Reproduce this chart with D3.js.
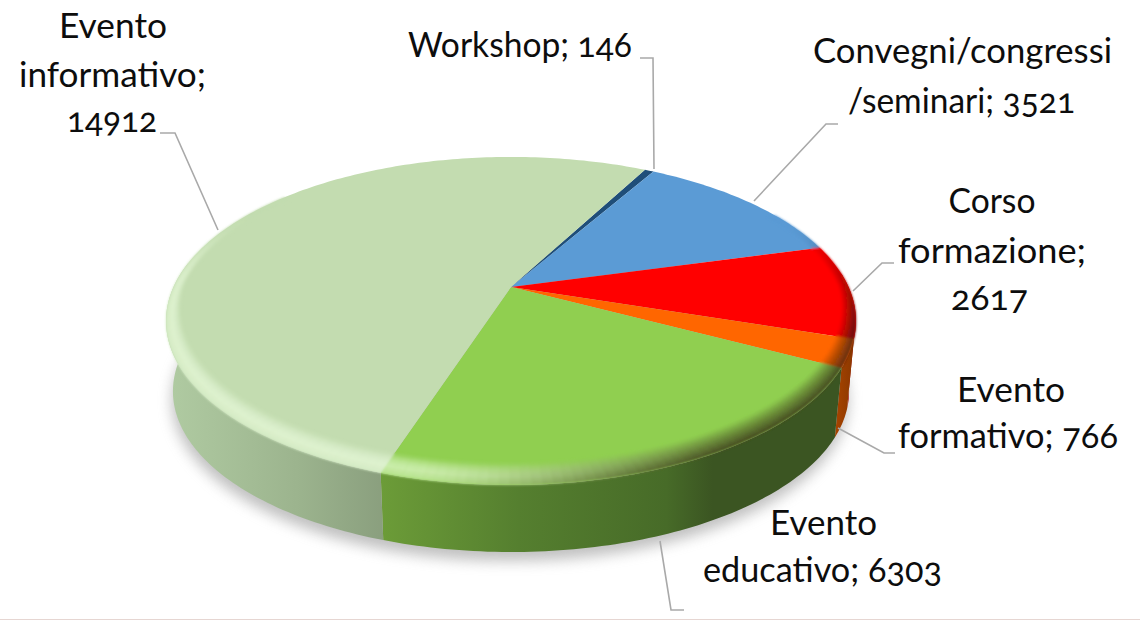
<!DOCTYPE html>
<html><head><meta charset="utf-8">
<script src="https://cdn.jsdelivr.net/npm/d3@7"></script>
<style>html,body{margin:0;padding:0;background:#fff}svg{display:block}
text{font-family:Lato,"Open Sans",sans-serif;font-size:35px;fill:#0d0d0d;font-feature-settings:"onum" 1;font-variant-numeric:oldstyle-nums}</style>
</head><body><svg id="c" width="1140" height="620"></svg>
<script>
const categories=["Workshop","Convegni/congressi /seminari","Corso formazione","Evento formativo","Evento educativo","Evento informativo"];
const values=[146,3521,2617,766,6303,14912];
const faceColors=["#1f4e79","#5b9bd5","#ff0000","#ff6600","#90cf50","#c3dcb0"];
const sideStart=["#123050","#3a6690","#a00000","#a84400","#6c9c38","#8a9f7e"];
const sideEnd=["#123050","#3a6690","#a00000","#8a3800","#3b5522","#b0cba2"];

const svg=d3.select("#c");
const defs=svg.append("defs");
defs.append("filter").attr("id","sh").attr("x","-10%").attr("y","-20%").attr("width","120%").attr("height","140%")
  .append("feGaussianBlur").attr("stdDeviation",7);
defs.append("filter").attr("id","soft").attr("x","-5%").attr("y","-5%").attr("width","110%").attr("height","110%")
  .append("feGaussianBlur").attr("stdDeviation",0.9);

// perspective disc
const cx=511,cy=287,R=337.5,H=157,k=0.207,drop=71,shrink=0.98;
function proj(a,r,low){
  const u=r*Math.sin(a),v=-r*Math.cos(a),w=1-k*v,s=low?shrink:1;
  return [cx+R*u/w*s,cy+H*v/w*s+(low?drop:0)];
}
const deg=Math.PI/180;
const pie=d3.pie().sort(null).startAngle(28*deg).endAngle(388*deg);
const arcs=pie(values);
const line=d3.line();
const samples=(a0,a1,st=1)=>{const n=Math.max(1,Math.ceil((a1-a0)/(st*deg)));return d3.range(n+1).map(i=>a0+(a1-a0)*i/n);};

// shadow
svg.append("path").attr("d",line(samples(0,2*Math.PI).map(a=>{const p=proj(a,1.0,true);return [p[0]-1,p[1]+9];}))+"Z")
  .attr("fill","#8c8c8c").attr("opacity",0.55).attr("filter","url(#sh)");

// sides
const sideG=svg.append("g");
arcs.forEach((d,i)=>{
  const a0=Math.max(d.startAngle,85*deg),a1=Math.min(d.endAngle,279*deg);
  if(a1<=a0) return;
  const pts=samples(a0,a1);
  const top=pts.map(a=>proj(a,1,false)),bot=pts.map(a=>proj(a,1,true)).reverse();
  const xs=top.map(p=>p[0]).concat(bot.map(p=>p[0]));
  const id="g"+i;
  const g=defs.append("linearGradient").attr("id",id).attr("gradientUnits","userSpaceOnUse")
    .attr("x1",d3.min(xs)).attr("x2",d3.max(xs)).attr("y1",0).attr("y2",0);
  if(i===4){
    [[0,sideStart[i]],[.3,"#557f2f"],[.62,"#476b28"],[.72,sideEnd[i]],[1,sideEnd[i]]].forEach(s=>g.append("stop").attr("offset",s[0]).attr("stop-color",s[1]));
  } else if(i===5){
    [[0,sideEnd[i]],[.6,"#9cb48e"],[1,sideStart[i]]].forEach(s=>g.append("stop").attr("offset",s[0]).attr("stop-color",s[1]));
  } else {
    g.append("stop").attr("offset",0).attr("stop-color",sideStart[i]);
    g.append("stop").attr("offset",1).attr("stop-color",sideEnd[i]);
  }
  sideG.append("path").attr("d",line(top.concat(bot))+"Z").attr("fill",`url(#${id})`);
});

// faces
const rimIn=a=>0.97-0.06*Math.max(0,-Math.cos(a));
const sstep=(e0,e1,x)=>{const t=Math.min(1,Math.max(0,(x-e0)/(e1-e0)));return t*t*(3-2*t);};
svg.append("g").selectAll("path").data(arcs).join("path")
  .attr("d",d=>line([[cx,cy]].concat(samples(d.startAngle,d.endAngle).map(a=>proj(a,1,false))))+"Z")
  .attr("fill",(d,i)=>faceColors[i]);

// bevelled rim, lit from the front-left and shaded to the right
const rimG=svg.append("g").attr("filter","url(#soft)");
const bands=7;
arcs.forEach((d,i)=>{
  const all=samples(d.startAngle,d.endAngle,1.5);
  all.slice(0,-1).forEach((a,j)=>{
    const b=all[j+1],mid=(a+b)/2,dg=(mid/deg)%360;
    if(dg<60||dg>310) return;
    const hi=sstep(140,195,dg)*(1-sstep(268,302,dg));
    const dk=sstep(62,110,dg)*(1-sstep(145,195,dg));
    d3.range(bands).forEach(n=>{
      const t=(n+.5)/bands;
      const ri=rimIn(mid);
      const r0=ri+(1-ri)*n/bands,r1=ri+(1-ri)*(n+1)/bands;
      const prof=t<.65?Math.sin(t/.65*Math.PI/2):1-0.3*(t-.65)/.35;
      let col=d3.interpolateRgb(faceColors[i],"#eeffe2")(hi*0.62*prof);
      col=d3.interpolateRgb(col,"#2a1a10")(dk*0.75*Math.pow(t,0.9));
      rimG.append("path").attr("d",line([proj(a,r0),proj(b,r0),proj(b,r1),proj(a,r1)])+"Z")
        .attr("fill",col).attr("stroke",col).attr("stroke-width",0.4);
    });
  });
});

// leader lines
const leaders=[
 [[640,58],[653,58],[654,169]],
 [[838,124],[826,124],[754,201]],
 [[894,263],[882,263],[853,291]],
 [[838,428],[884,453],[895,453]],
 [[660,541],[671,610],[684,610]],
 [[160,133],[175,133],[218,230]]];
svg.append("g").selectAll("path").data(leaders).join("path").attr("d",p=>line(p))
  .attr("fill","none").attr("stroke","#a9a9a9").attr("stroke-width",1.6);

// labels: text, centre x, baseline y, rendered width
const labelLines=[
 [["Workshop; "+values[0],520,57,224]],
 [["Convegni/congressi",962.5,63,299],["/seminari; "+values[1],961.5,113,227]],
 [["Corso",992,213,87],["formazione;",992,263,188],[""+values[2],989.5,310,77]],
 [["Evento",1011,402,108],["formativo; "+values[3],1008,448,220]],
 [["Evento",823.5,535,107],["educativo; "+values[4],822.5,582,239]],
 [["Evento",113,38,108],["informativo;",112.5,87,187],[""+values[5],112,132,90]]];
svg.append("g").selectAll("text").data(labelLines.flat()).join("text")
  .attr("x",d=>d[1]).attr("y",d=>d[2]).attr("text-anchor","middle")
  .attr("textLength",d=>d[3]).attr("lengthAdjust","spacingAndGlyphs").text(d=>d[0]);

svg.append("line").attr("x1",0).attr("x2",1140).attr("y1",619.5).attr("y2",619.5).attr("stroke","#e6d6d2");
</script></body></html>
